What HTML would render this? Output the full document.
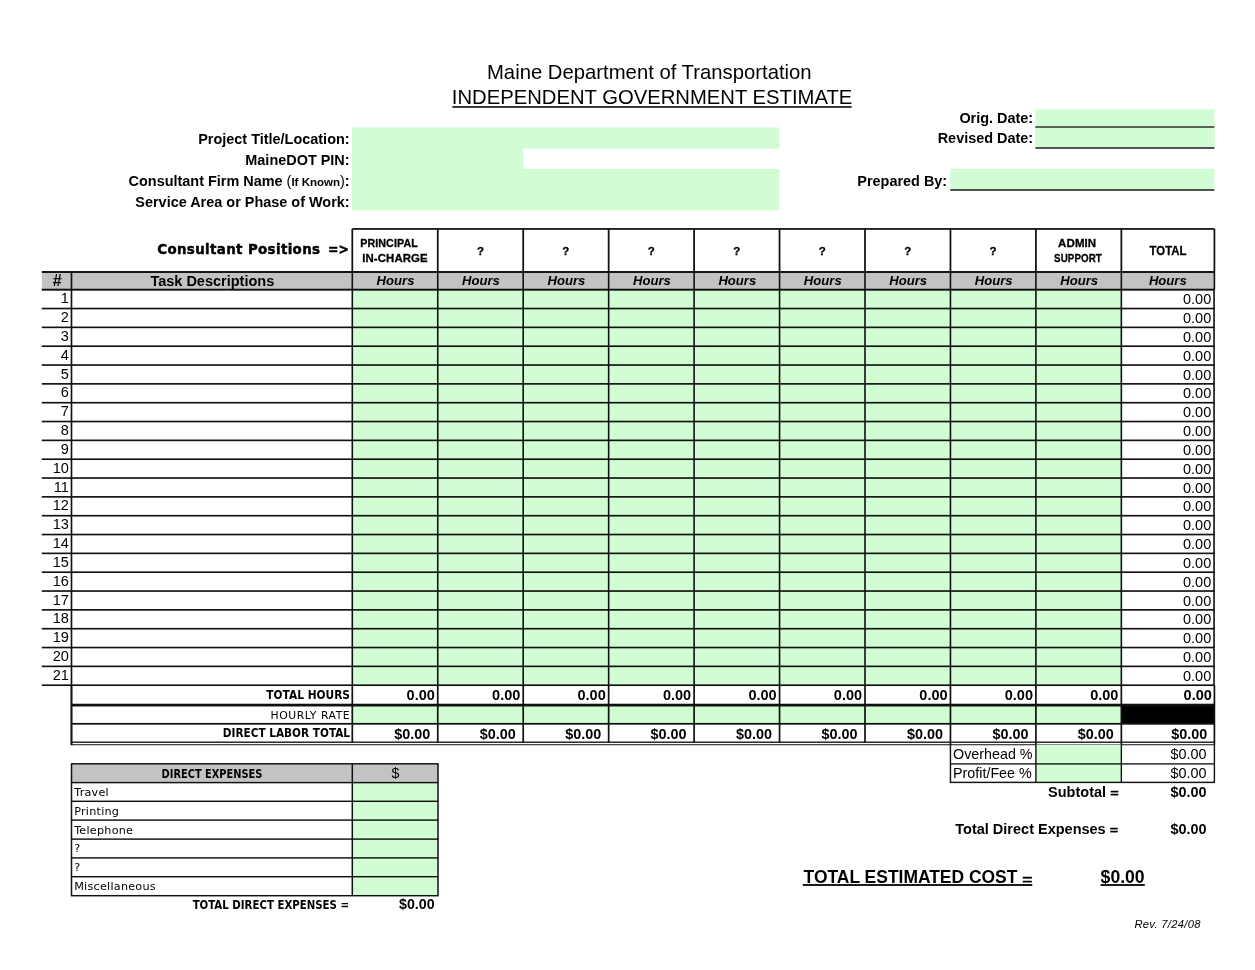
<!DOCTYPE html>
<html><head><meta charset="utf-8"><title>Independent Government Estimate</title>
<style>
html,body{margin:0;padding:0;background:#fff;overflow:hidden;}
body{width:1255px;height:970px;position:relative;overflow:hidden;color:#000;}
.g{position:absolute;left:0;top:0;}
.t{position:absolute;white-space:nowrap;line-height:0;height:0;}
.t>span{display:inline-block;line-height:0;}
.tr>span{transform:translateX(-100%);}
.tc>span{transform:translateX(-50%);}
.a{font-family:"Liberation Sans",sans-serif;}
.dj{font-family:"DejaVu Sans Condensed","DejaVu Sans",sans-serif;}
.djw{font-family:"DejaVu Sans",sans-serif;}
.b{font-weight:bold;}
.i{font-style:italic;}
.u>span{text-decoration:underline;text-decoration-thickness:1.6px;text-underline-offset:2.2px;text-decoration-skip-ink:none;}
.u2>span{text-decoration:underline;text-decoration-thickness:1.6px;text-underline-offset:2px;text-decoration-skip-ink:none;}
.eq{display:inline-block;transform:translateY(0.12em) scaleY(0.74);transform-origin:50% 100%;-webkit-text-stroke:0.35px #000;}
.pos{letter-spacing:0.1px;}
.pos>span{-webkit-text-stroke:0.3px #000;}
.hv>span{-webkit-text-stroke:0.45px #000;}
</style></head>
<body>
<svg class="g" width="1255" height="970" viewBox="0 0 1255 970">
<rect x="452.40" y="106.10" width="399.20" height="1.70" fill="#1a1a1a"/>
<rect x="352.00" y="127.40" width="427.60" height="83.00" fill="#d2fcd3"/>
<rect x="523.30" y="148.60" width="258.30" height="20.30" fill="#fff"/>
<rect x="1035.40" y="109.30" width="179.00" height="38.10" fill="#d2fcd3"/>
<rect x="1035.40" y="126.32" width="179.00" height="1.55" fill="#222"/>
<rect x="1035.40" y="127.80" width="179.00" height="19.60" fill="#d2fcd3"/>
<rect x="1035.40" y="147.22" width="179.00" height="1.55" fill="#222"/>
<rect x="950.30" y="168.80" width="264.10" height="20.60" fill="#d2fcd3"/>
<rect x="950.30" y="189.22" width="264.10" height="1.55" fill="#222"/>
<rect x="41.80" y="272.00" width="1172.60" height="17.70" fill="#c3c3c3"/>
<rect x="352.30" y="289.70" width="769.05" height="395.50" fill="#d2fcd3"/>
<rect x="352.30" y="228.07" width="862.10" height="1.75" fill="#111"/>
<rect x="351.43" y="228.95" width="1.75" height="43.05" fill="#111"/>
<rect x="436.88" y="228.95" width="1.75" height="43.05" fill="#111"/>
<rect x="522.33" y="228.95" width="1.75" height="43.05" fill="#111"/>
<rect x="607.78" y="228.95" width="1.75" height="43.05" fill="#111"/>
<rect x="693.23" y="228.95" width="1.75" height="43.05" fill="#111"/>
<rect x="778.67" y="228.95" width="1.75" height="43.05" fill="#111"/>
<rect x="864.12" y="228.95" width="1.75" height="43.05" fill="#111"/>
<rect x="949.58" y="228.95" width="1.75" height="43.05" fill="#111"/>
<rect x="1035.03" y="228.95" width="1.75" height="43.05" fill="#111"/>
<rect x="1120.48" y="228.95" width="1.75" height="43.05" fill="#111"/>
<rect x="1213.53" y="228.95" width="1.75" height="43.05" fill="#111"/>
<rect x="41.80" y="271.02" width="1172.60" height="1.95" fill="#111"/>
<rect x="41.80" y="288.72" width="1172.60" height="1.95" fill="#111"/>
<rect x="41.80" y="307.71" width="1172.70" height="1.65" fill="#111"/>
<rect x="41.80" y="326.54" width="1172.70" height="1.65" fill="#111"/>
<rect x="41.80" y="345.38" width="1172.70" height="1.65" fill="#111"/>
<rect x="41.80" y="364.21" width="1172.70" height="1.65" fill="#111"/>
<rect x="41.80" y="383.04" width="1172.70" height="1.65" fill="#111"/>
<rect x="41.80" y="401.88" width="1172.70" height="1.65" fill="#111"/>
<rect x="41.80" y="420.71" width="1172.70" height="1.65" fill="#111"/>
<rect x="41.80" y="439.54" width="1172.70" height="1.65" fill="#111"/>
<rect x="41.80" y="458.38" width="1172.70" height="1.65" fill="#111"/>
<rect x="41.80" y="477.21" width="1172.70" height="1.65" fill="#111"/>
<rect x="41.80" y="496.04" width="1172.70" height="1.65" fill="#111"/>
<rect x="41.80" y="514.88" width="1172.70" height="1.65" fill="#111"/>
<rect x="41.80" y="533.71" width="1172.70" height="1.65" fill="#111"/>
<rect x="41.80" y="552.54" width="1172.70" height="1.65" fill="#111"/>
<rect x="41.80" y="571.38" width="1172.70" height="1.65" fill="#111"/>
<rect x="41.80" y="590.21" width="1172.70" height="1.65" fill="#111"/>
<rect x="41.80" y="609.04" width="1172.70" height="1.65" fill="#111"/>
<rect x="41.80" y="627.88" width="1172.70" height="1.65" fill="#111"/>
<rect x="41.80" y="646.71" width="1172.70" height="1.65" fill="#111"/>
<rect x="41.80" y="665.54" width="1172.70" height="1.65" fill="#111"/>
<rect x="41.80" y="684.38" width="1172.60" height="1.65" fill="#111"/>
<rect x="70.67" y="272.00" width="1.65" height="413.20" fill="#111"/>
<rect x="351.50" y="272.00" width="1.60" height="413.20" fill="#111"/>
<rect x="436.95" y="272.00" width="1.60" height="413.20" fill="#111"/>
<rect x="522.40" y="272.00" width="1.60" height="413.20" fill="#111"/>
<rect x="607.85" y="272.00" width="1.60" height="413.20" fill="#111"/>
<rect x="693.30" y="272.00" width="1.60" height="413.20" fill="#111"/>
<rect x="778.75" y="272.00" width="1.60" height="413.20" fill="#111"/>
<rect x="864.20" y="272.00" width="1.60" height="413.20" fill="#111"/>
<rect x="949.65" y="272.00" width="1.60" height="413.20" fill="#111"/>
<rect x="1035.10" y="272.00" width="1.60" height="413.20" fill="#111"/>
<rect x="1120.55" y="272.00" width="1.60" height="413.20" fill="#111"/>
<rect x="1213.60" y="272.00" width="1.60" height="17.70" fill="#111"/>
<rect x="1213.25" y="289.70" width="1.60" height="395.50" fill="#111"/>
<rect x="352.30" y="705.10" width="769.05" height="18.70" fill="#d2fcd3"/>
<rect x="1121.35" y="705.10" width="93.05" height="18.70" fill="#000"/>
<rect x="71.50" y="703.73" width="1142.90" height="2.75" fill="#111"/>
<rect x="71.50" y="722.92" width="1142.90" height="1.75" fill="#111"/>
<rect x="71.50" y="741.53" width="1142.90" height="1.35" fill="#111"/>
<rect x="71.50" y="744.12" width="1142.90" height="1.15" fill="#333"/>
<rect x="70.47" y="685.20" width="2.05" height="60.00" fill="#111"/>
<rect x="351.45" y="685.20" width="1.70" height="57.40" fill="#111"/>
<rect x="436.90" y="685.20" width="1.70" height="57.40" fill="#111"/>
<rect x="522.35" y="685.20" width="1.70" height="57.40" fill="#111"/>
<rect x="607.80" y="685.20" width="1.70" height="57.40" fill="#111"/>
<rect x="693.25" y="685.20" width="1.70" height="57.40" fill="#111"/>
<rect x="778.70" y="685.20" width="1.70" height="57.40" fill="#111"/>
<rect x="864.15" y="685.20" width="1.70" height="57.40" fill="#111"/>
<rect x="949.60" y="685.20" width="1.70" height="59.80" fill="#111"/>
<rect x="1035.05" y="685.20" width="1.70" height="59.80" fill="#111"/>
<rect x="1120.50" y="685.20" width="1.70" height="59.80" fill="#111"/>
<rect x="1213.55" y="685.20" width="1.70" height="59.80" fill="#111"/>
<rect x="1035.90" y="744.60" width="85.45" height="37.80" fill="#d2fcd3"/>
<rect x="950.45" y="763.23" width="263.95" height="1.35" fill="#111"/>
<rect x="949.85" y="781.67" width="265.15" height="1.45" fill="#111"/>
<rect x="949.75" y="744.60" width="1.40" height="37.80" fill="#111"/>
<rect x="1035.20" y="744.60" width="1.40" height="37.80" fill="#111"/>
<rect x="1120.65" y="744.60" width="1.40" height="37.80" fill="#111"/>
<rect x="1213.70" y="744.60" width="1.40" height="37.80" fill="#111"/>
<rect x="802.80" y="884.05" width="229.50" height="1.90" fill="#111"/>
<rect x="1100.60" y="884.05" width="44.20" height="1.90" fill="#111"/>
<rect x="71.50" y="763.80" width="366.50" height="18.80" fill="#c3c3c3"/>
<rect x="352.30" y="782.60" width="85.70" height="113.10" fill="#d2fcd3"/>
<rect x="70.90" y="763.07" width="367.70" height="1.45" fill="#111"/>
<rect x="70.90" y="781.88" width="367.70" height="1.45" fill="#111"/>
<rect x="70.90" y="800.57" width="367.70" height="1.45" fill="#111"/>
<rect x="70.90" y="819.38" width="367.70" height="1.45" fill="#111"/>
<rect x="70.90" y="838.38" width="367.70" height="1.45" fill="#111"/>
<rect x="70.90" y="857.17" width="367.70" height="1.45" fill="#111"/>
<rect x="70.90" y="875.98" width="367.70" height="1.45" fill="#111"/>
<rect x="70.90" y="894.98" width="367.70" height="1.45" fill="#111"/>
<rect x="70.75" y="763.80" width="1.50" height="131.90" fill="#111"/>
<rect x="351.55" y="763.80" width="1.50" height="131.90" fill="#111"/>
<rect x="437.25" y="763.80" width="1.50" height="131.90" fill="#111"/>
</svg>
<div class="t a tc" style="font-size:20.3px;top:71.67px;left:649.30px;"><span>Maine Department of Transportation</span></div>
<div class="t a tc" style="font-size:20.25px;top:97.08px;left:652.10px;"><span>INDEPENDENT GOVERNMENT ESTIMATE</span></div>
<div class="t a b tr" style="font-size:14.45px;top:139.39px;left:349.60px;"><span>Project Title/Location:</span></div>
<div class="t a b tr" style="font-size:14.45px;top:160.19px;left:349.60px;"><span>MaineDOT PIN:</span></div>
<div class="t a b tr" style="font-size:14.45px;top:180.89px;left:349.60px;"><span>Consultant Firm Name <span style="font-weight:normal">(</span><span style="font-size:11.5px">If Known</span><span style="font-weight:normal">)</span>:</span></div>
<div class="t a b tr" style="font-size:14.45px;top:201.69px;left:349.60px;"><span>Service Area or Phase of Work:</span></div>
<div class="t a b tr" style="font-size:14.45px;top:118.19px;left:1033.20px;"><span>Orig. Date:</span></div>
<div class="t a b tr" style="font-size:14.45px;top:138.49px;left:1033.20px;"><span>Revised Date:</span></div>
<div class="t a b tr" style="font-size:14.45px;top:180.79px;left:947.20px;"><span>Prepared By:</span></div>
<div class="t djw b hv tr" style="font-size:13.4px;top:249.96px;letter-spacing:0.36px;left:320.40px;"><span>Consultant Positions</span></div>
<div class="t djw b hv tr" style="font-size:13.4px;top:249.96px;left:349.20px;"><span style="transform:translateX(-100%) scaleX(0.93);transform-origin:100% 50%">=&gt;</span></div>
<div class="t a b pos tc" style="font-size:11.5px;top:243.32px;left:388.70px;"><span style="transform:translateX(-50%) scaleX(0.93);transform-origin:50% 50%">PRINCIPAL</span></div>
<div class="t a b pos tc" style="font-size:11.5px;top:257.92px;left:395.40px;"><span style="transform:translateX(-50%) scaleX(0.99);transform-origin:50% 50%">IN-CHARGE</span></div>
<div class="t a b pos tc" style="font-size:11.5px;top:251.02px;left:480.48px;"><span>?</span></div>
<div class="t a b pos tc" style="font-size:11.5px;top:251.02px;left:565.93px;"><span>?</span></div>
<div class="t a b pos tc" style="font-size:11.5px;top:251.02px;left:651.38px;"><span>?</span></div>
<div class="t a b pos tc" style="font-size:11.5px;top:251.02px;left:736.83px;"><span>?</span></div>
<div class="t a b pos tc" style="font-size:11.5px;top:251.02px;left:822.27px;"><span>?</span></div>
<div class="t a b pos tc" style="font-size:11.5px;top:251.02px;left:907.73px;"><span>?</span></div>
<div class="t a b pos tc" style="font-size:11.5px;top:251.02px;left:993.18px;"><span>?</span></div>
<div class="t a b pos tc" style="font-size:11.5px;top:243.32px;left:1077.20px;"><span style="transform:translateX(-50%) scaleX(1.0);transform-origin:50% 50%">ADMIN</span></div>
<div class="t a b pos tc" style="font-size:11.5px;top:257.92px;left:1078.40px;"><span style="transform:translateX(-50%) scaleX(0.85);transform-origin:50% 50%">SUPPORT</span></div>
<div class="t a b pos tc" style="font-size:13.2px;top:251.13px;left:1167.80px;"><span style="transform:translateX(-50%) scaleX(0.86);transform-origin:50% 50%">TOTAL</span></div>
<div class="t a b tc" style="font-size:16.0px;top:280.76px;left:57.20px;"><span>#</span></div>
<div class="t a b tc" style="font-size:14.5px;top:280.58px;left:212.30px;"><span>Task Descriptions</span></div>
<div class="t a b i tc" style="font-size:13.1px;top:281.16px;left:395.53px;"><span>Hours</span></div>
<div class="t a b i tc" style="font-size:13.1px;top:281.16px;left:480.98px;"><span>Hours</span></div>
<div class="t a b i tc" style="font-size:13.1px;top:281.16px;left:566.43px;"><span>Hours</span></div>
<div class="t a b i tc" style="font-size:13.1px;top:281.16px;left:651.88px;"><span>Hours</span></div>
<div class="t a b i tc" style="font-size:13.1px;top:281.16px;left:737.33px;"><span>Hours</span></div>
<div class="t a b i tc" style="font-size:13.1px;top:281.16px;left:822.77px;"><span>Hours</span></div>
<div class="t a b i tc" style="font-size:13.1px;top:281.16px;left:908.23px;"><span>Hours</span></div>
<div class="t a b i tc" style="font-size:13.1px;top:281.16px;left:993.68px;"><span>Hours</span></div>
<div class="t a b i tc" style="font-size:13.1px;top:281.16px;left:1079.12px;"><span>Hours</span></div>
<div class="t a b i tc" style="font-size:13.1px;top:281.16px;left:1167.80px;"><span>Hours</span></div>
<div class="t a tr" style="font-size:14.55px;top:298.19px;left:68.90px;"><span>1</span></div>
<div class="t a tr" style="font-size:14.55px;top:299.19px;left:1211.30px;"><span>0.00</span></div>
<div class="t a tr" style="font-size:14.55px;top:317.03px;left:68.90px;"><span>2</span></div>
<div class="t a tr" style="font-size:14.55px;top:318.03px;left:1211.30px;"><span>0.00</span></div>
<div class="t a tr" style="font-size:14.55px;top:335.86px;left:68.90px;"><span>3</span></div>
<div class="t a tr" style="font-size:14.55px;top:336.86px;left:1211.30px;"><span>0.00</span></div>
<div class="t a tr" style="font-size:14.55px;top:354.69px;left:68.90px;"><span>4</span></div>
<div class="t a tr" style="font-size:14.55px;top:355.69px;left:1211.30px;"><span>0.00</span></div>
<div class="t a tr" style="font-size:14.55px;top:373.53px;left:68.90px;"><span>5</span></div>
<div class="t a tr" style="font-size:14.55px;top:374.53px;left:1211.30px;"><span>0.00</span></div>
<div class="t a tr" style="font-size:14.55px;top:392.36px;left:68.90px;"><span>6</span></div>
<div class="t a tr" style="font-size:14.55px;top:393.36px;left:1211.30px;"><span>0.00</span></div>
<div class="t a tr" style="font-size:14.55px;top:411.19px;left:68.90px;"><span>7</span></div>
<div class="t a tr" style="font-size:14.55px;top:412.19px;left:1211.30px;"><span>0.00</span></div>
<div class="t a tr" style="font-size:14.55px;top:430.03px;left:68.90px;"><span>8</span></div>
<div class="t a tr" style="font-size:14.55px;top:431.03px;left:1211.30px;"><span>0.00</span></div>
<div class="t a tr" style="font-size:14.55px;top:448.86px;left:68.90px;"><span>9</span></div>
<div class="t a tr" style="font-size:14.55px;top:449.86px;left:1211.30px;"><span>0.00</span></div>
<div class="t a tr" style="font-size:14.55px;top:467.69px;left:68.90px;"><span>10</span></div>
<div class="t a tr" style="font-size:14.55px;top:468.69px;left:1211.30px;"><span>0.00</span></div>
<div class="t a tr" style="font-size:14.55px;top:486.53px;left:68.90px;"><span>11</span></div>
<div class="t a tr" style="font-size:14.55px;top:487.53px;left:1211.30px;"><span>0.00</span></div>
<div class="t a tr" style="font-size:14.55px;top:505.36px;left:68.90px;"><span>12</span></div>
<div class="t a tr" style="font-size:14.55px;top:506.36px;left:1211.30px;"><span>0.00</span></div>
<div class="t a tr" style="font-size:14.55px;top:524.19px;left:68.90px;"><span>13</span></div>
<div class="t a tr" style="font-size:14.55px;top:525.19px;left:1211.30px;"><span>0.00</span></div>
<div class="t a tr" style="font-size:14.55px;top:543.03px;left:68.90px;"><span>14</span></div>
<div class="t a tr" style="font-size:14.55px;top:544.03px;left:1211.30px;"><span>0.00</span></div>
<div class="t a tr" style="font-size:14.55px;top:561.86px;left:68.90px;"><span>15</span></div>
<div class="t a tr" style="font-size:14.55px;top:562.86px;left:1211.30px;"><span>0.00</span></div>
<div class="t a tr" style="font-size:14.55px;top:580.69px;left:68.90px;"><span>16</span></div>
<div class="t a tr" style="font-size:14.55px;top:581.69px;left:1211.30px;"><span>0.00</span></div>
<div class="t a tr" style="font-size:14.55px;top:599.53px;left:68.90px;"><span>17</span></div>
<div class="t a tr" style="font-size:14.55px;top:600.53px;left:1211.30px;"><span>0.00</span></div>
<div class="t a tr" style="font-size:14.55px;top:618.36px;left:68.90px;"><span>18</span></div>
<div class="t a tr" style="font-size:14.55px;top:619.36px;left:1211.30px;"><span>0.00</span></div>
<div class="t a tr" style="font-size:14.55px;top:637.19px;left:68.90px;"><span>19</span></div>
<div class="t a tr" style="font-size:14.55px;top:638.19px;left:1211.30px;"><span>0.00</span></div>
<div class="t a tr" style="font-size:14.55px;top:656.03px;left:68.90px;"><span>20</span></div>
<div class="t a tr" style="font-size:14.55px;top:657.03px;left:1211.30px;"><span>0.00</span></div>
<div class="t a tr" style="font-size:14.55px;top:674.86px;left:68.90px;"><span>21</span></div>
<div class="t a tr" style="font-size:14.55px;top:675.86px;left:1211.30px;"><span>0.00</span></div>
<div class="t dj b tr" style="font-size:12.3px;top:694.74px;left:349.60px;"><span style="transform:translateX(-100%) scaleX(0.96);transform-origin:100% 50%">TOTAL HOURS</span></div>
<div class="t djw tr" style="font-size:10.8px;top:715.66px;letter-spacing:0.55px;left:350.20px;"><span>HOURLY RATE</span></div>
<div class="t dj b tr" style="font-size:12.3px;top:733.34px;left:349.60px;"><span style="transform:translateX(-100%) scaleX(0.95);transform-origin:100% 50%">DIRECT LABOR TOTAL</span></div>
<div class="t a b tr" style="font-size:14.5px;top:694.78px;left:434.85px;"><span>0.00</span></div>
<div class="t a b tr" style="font-size:14.4px;top:734.01px;left:430.25px;"><span>$0.00</span></div>
<div class="t a b tr" style="font-size:14.5px;top:694.78px;left:520.30px;"><span>0.00</span></div>
<div class="t a b tr" style="font-size:14.4px;top:734.01px;left:515.70px;"><span>$0.00</span></div>
<div class="t a b tr" style="font-size:14.5px;top:694.78px;left:605.75px;"><span>0.00</span></div>
<div class="t a b tr" style="font-size:14.4px;top:734.01px;left:601.15px;"><span>$0.00</span></div>
<div class="t a b tr" style="font-size:14.5px;top:694.78px;left:691.20px;"><span>0.00</span></div>
<div class="t a b tr" style="font-size:14.4px;top:734.01px;left:686.60px;"><span>$0.00</span></div>
<div class="t a b tr" style="font-size:14.5px;top:694.78px;left:776.65px;"><span>0.00</span></div>
<div class="t a b tr" style="font-size:14.4px;top:734.01px;left:772.05px;"><span>$0.00</span></div>
<div class="t a b tr" style="font-size:14.5px;top:694.78px;left:862.10px;"><span>0.00</span></div>
<div class="t a b tr" style="font-size:14.4px;top:734.01px;left:857.50px;"><span>$0.00</span></div>
<div class="t a b tr" style="font-size:14.5px;top:694.78px;left:947.55px;"><span>0.00</span></div>
<div class="t a b tr" style="font-size:14.4px;top:734.01px;left:942.95px;"><span>$0.00</span></div>
<div class="t a b tr" style="font-size:14.5px;top:694.78px;left:1033.00px;"><span>0.00</span></div>
<div class="t a b tr" style="font-size:14.4px;top:734.01px;left:1028.40px;"><span>$0.00</span></div>
<div class="t a b tr" style="font-size:14.5px;top:694.78px;left:1118.45px;"><span>0.00</span></div>
<div class="t a b tr" style="font-size:14.4px;top:734.01px;left:1113.85px;"><span>$0.00</span></div>
<div class="t a b tr" style="font-size:14.5px;top:694.78px;left:1211.80px;"><span>0.00</span></div>
<div class="t a b tr" style="font-size:14.4px;top:734.01px;left:1207.20px;"><span>$0.00</span></div>
<div class="t a tl" style="font-size:14.3px;top:753.85px;left:953.05px;"><span>Overhead %</span></div>
<div class="t a tl" style="font-size:14.3px;top:773.25px;left:953.05px;"><span>Profit/Fee %</span></div>
<div class="t a tr" style="font-size:14.4px;top:753.61px;left:1206.60px;"><span>$0.00</span></div>
<div class="t a tr" style="font-size:14.4px;top:773.01px;left:1206.60px;"><span>$0.00</span></div>
<div class="t a b tr" style="font-size:14.5px;top:792.18px;left:1118.60px;"><span>Subtotal <span class="eq">=</span></span></div>
<div class="t a b tr" style="font-size:14.4px;top:792.21px;left:1206.40px;"><span>$0.00</span></div>
<div class="t a b tr" style="font-size:14.5px;top:828.78px;left:1118.20px;"><span>Total Direct Expenses <span class="eq">=</span></span></div>
<div class="t a b tr" style="font-size:14.4px;top:829.21px;left:1206.40px;"><span>$0.00</span></div>
<div class="t a b tl" style="font-size:17.45px;top:876.85px;left:803.60px;"><span>TOTAL ESTIMATED COST <span class="eq">=</span></span></div>
<div class="t a b tl" style="font-size:17.6px;top:876.80px;left:1100.60px;"><span>$0.00</span></div>
<div class="t a i tl" style="font-size:11.2px;top:923.72px;letter-spacing:0.32px;left:1134.40px;"><span>Rev. 7/24/08</span></div>
<div class="t dj b tc" style="font-size:11.7px;top:773.55px;left:212.30px;"><span style="transform:translateX(-50%) scaleX(0.935);transform-origin:50% 50%">DIRECT EXPENSES</span></div>
<div class="t a tc" style="font-size:14.2px;top:773.28px;left:395.40px;"><span>$</span></div>
<div class="t djw tl" style="font-size:11.2px;top:792.82px;letter-spacing:0.25px;left:74.20px;"><span>Travel</span></div>
<div class="t djw tl" style="font-size:11.2px;top:811.62px;letter-spacing:0.25px;left:74.20px;"><span>Printing</span></div>
<div class="t djw tl" style="font-size:11.2px;top:830.62px;letter-spacing:0.25px;left:74.20px;"><span>Telephone</span></div>
<div class="t djw tl" style="font-size:11.2px;top:849.42px;letter-spacing:0.25px;left:74.20px;"><span>?</span></div>
<div class="t djw tl" style="font-size:11.2px;top:868.22px;letter-spacing:0.25px;left:74.20px;"><span>?</span></div>
<div class="t djw tl" style="font-size:11.2px;top:887.22px;letter-spacing:0.25px;left:74.20px;"><span>Miscellaneous</span></div>
<div class="t dj b tr" style="font-size:12.0px;top:905.04px;left:349.00px;"><span style="transform:translateX(-100%) scaleX(0.945);transform-origin:100% 50%">TOTAL DIRECT EXPENSES =</span></div>
<div class="t a b tr" style="font-size:14.2px;top:904.08px;left:434.60px;"><span>$0.00</span></div>
</body></html>
